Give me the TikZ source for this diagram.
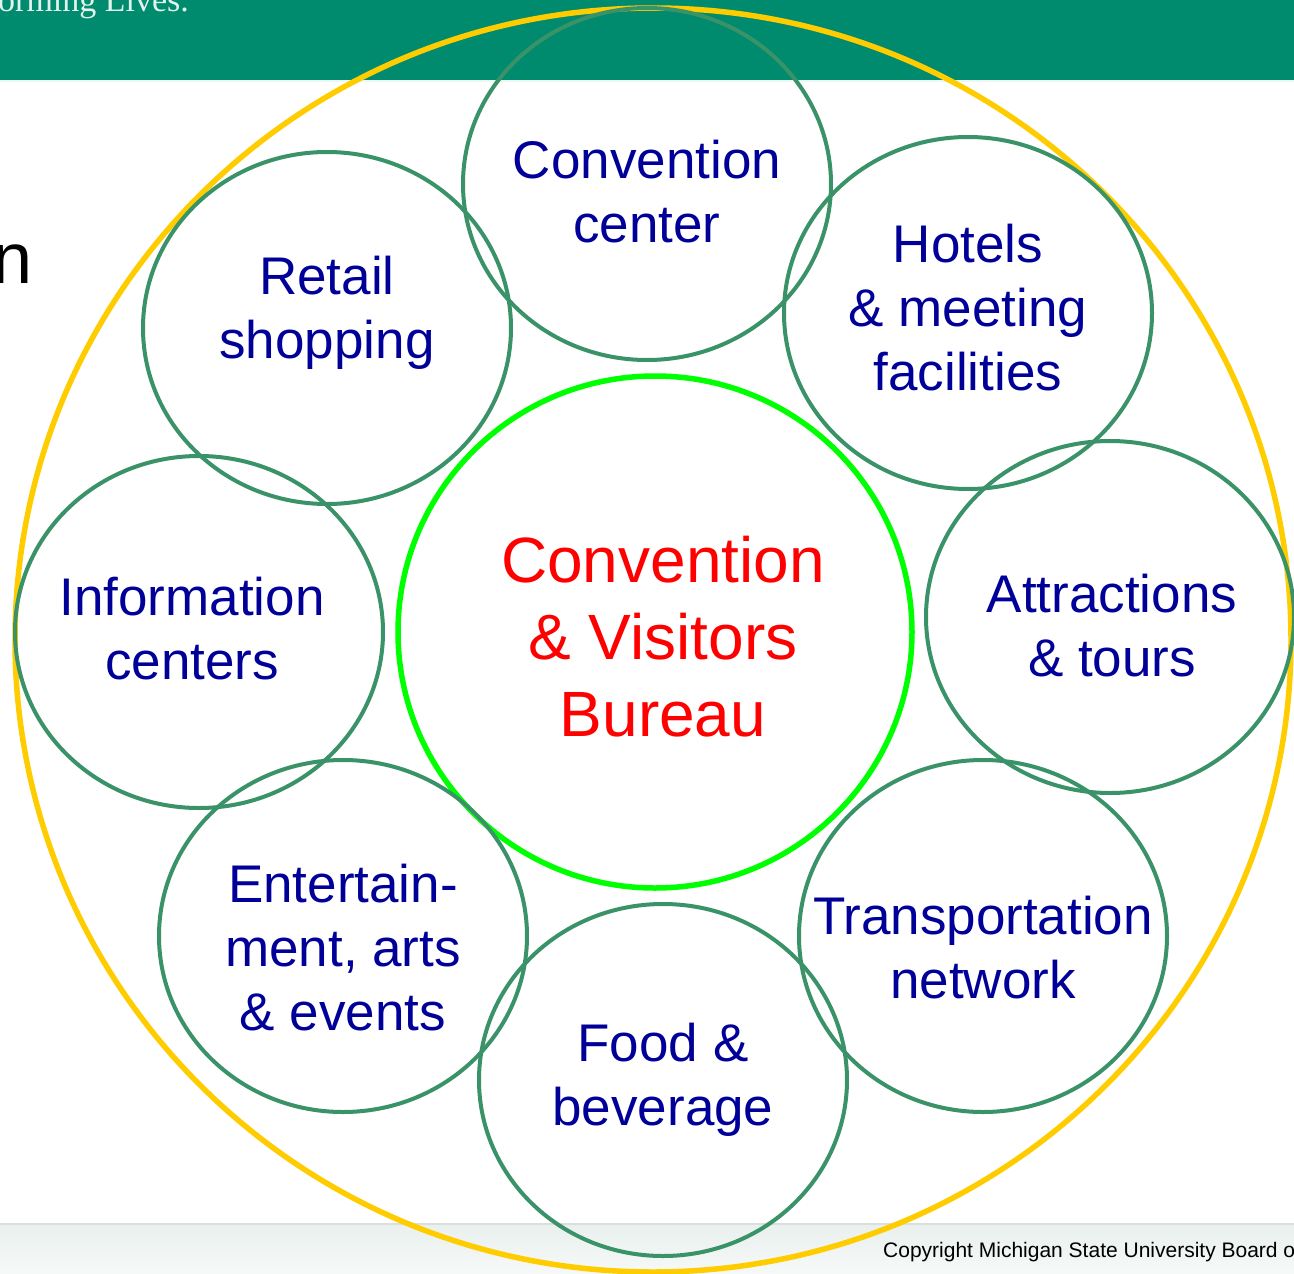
\documentclass[tikz,border=0pt]{standalone}
\usepackage{fontspec}
\setmainfont{Liberation Sans}
\newfontfamily\hdrfont{Liberation Serif}
\usetikzlibrary{shapes.geometric}
\definecolor{hdrgreen}{RGB}{0,139,111}
\definecolor{hdrtext}{RGB}{225,243,236}
\definecolor{ringgreen}{RGB}{58,146,104}
\definecolor{goldring}{RGB}{255,204,0}
\definecolor{limering}{RGB}{0,255,0}
\definecolor{navytext}{RGB}{0,0,153}
\definecolor{foottop}{RGB}{233,240,237}
\definecolor{footbot}{RGB}{246,249,248}
\tikzset{
  ring/.style={ellipse, draw=ringgreen, line width=4pt, minimum width=368pt, minimum height=352pt, inner sep=0pt},
  ringtext/.style={align=center, text=navytext, inner sep=0pt, font=\fontsize{53}{64}\selectfont},
  hub/.style={ellipse, draw=limering, line width=5.5pt, minimum width=514pt, minimum height=512pt, inner sep=0pt},
  hubtext/.style={align=center, text=red, inner sep=0pt, font=\fontsize{64}{77}\selectfont},
  outer/.style={ellipse, draw=goldring, line width=5.5pt, minimum width=1276pt, minimum height=1264pt, inner sep=0pt}
}
\begin{document}
\begin{tikzpicture}[x=1pt,y=-1pt]
\useasboundingbox (0,0) rectangle (1294,1274);
\clip (0,0) rectangle (1294,1274);
\fill[white] (0,0) rectangle (1294,1274);
% header band
\fill[hdrgreen] (0,0) rectangle (1294,80);
\fill[hdrtext!60!white] (0,80) rectangle (1294,82);
\node[anchor=base west, inner sep=0pt, text=hdrtext, font=\hdrfont\fontsize{34}{40}\selectfont] (tag) at (-2,12) {orming Lives.};
% footer band
\shade[top color=foottop, bottom color=footbot] (0,1224) rectangle (1294,1274);
\fill[foottop!85!gray] (0,1223) rectangle (1294,1225);
\node[anchor=base west, inner sep=0pt, font=\fontsize{21}{24}\selectfont] (copy) at (883,1257) {Copyright Michigan State University Board o};
% left fragment
\node[anchor=base west, inner sep=0pt, font=\fontsize{72}{80}\selectfont] (frag) at (-8,283) {n};
% outer and hub
\node[outer] (outer) at (653,640) {};
\node[hub] (cvb) at (655,632) {};
\node[hubtext] (cvbt) at ([xshift=8pt,yshift=-5pt]cvb.center) {Convention\\\& Visitors\\Bureau};
% satellites
\node[ring] (conv) at (647,184) {};
\node[ringtext] (convt) at ([yshift=-8pt]conv.center) {Convention\\center};
\node[ring] (hotel) at (968,313) {};
\node[ringtext] (hotelt) at ([yshift=5pt]hotel.center) {Hotels\\\& meeting\\facilities};
\node[ring] (attr) at (1110,617) {};
\node[ringtext] (attrt) at ([xshift=2pt,yshift=-9pt]attr.center) {Attractions\\\& tours};
\node[ring] (trans) at (983,936) {};
\node[ringtext] (transt) at ([yshift=-12pt]trans.center) {Transportation\\network};
\node[ring] (food) at (663,1080) {};
\node[ringtext] (foodt) at ([yshift=0pt]food.center) {Food \&\\beverage};
\node[ring] (ent) at (343,936) {};
\node[ringtext] (entt) at ([yshift=-12pt]ent.center) {Entertain-\\ment, arts\\\& events};
\node[ring] (info) at (199,632) {};
\node[ringtext] (infot) at ([xshift=-7pt,yshift=3pt]info.center) {Information\\centers};
\node[ring] (retail) at (327,328) {};
\node[ringtext] (retailt) at ([yshift=15pt]retail.center) {Retail\\shopping};
\end{tikzpicture}
\end{document}
